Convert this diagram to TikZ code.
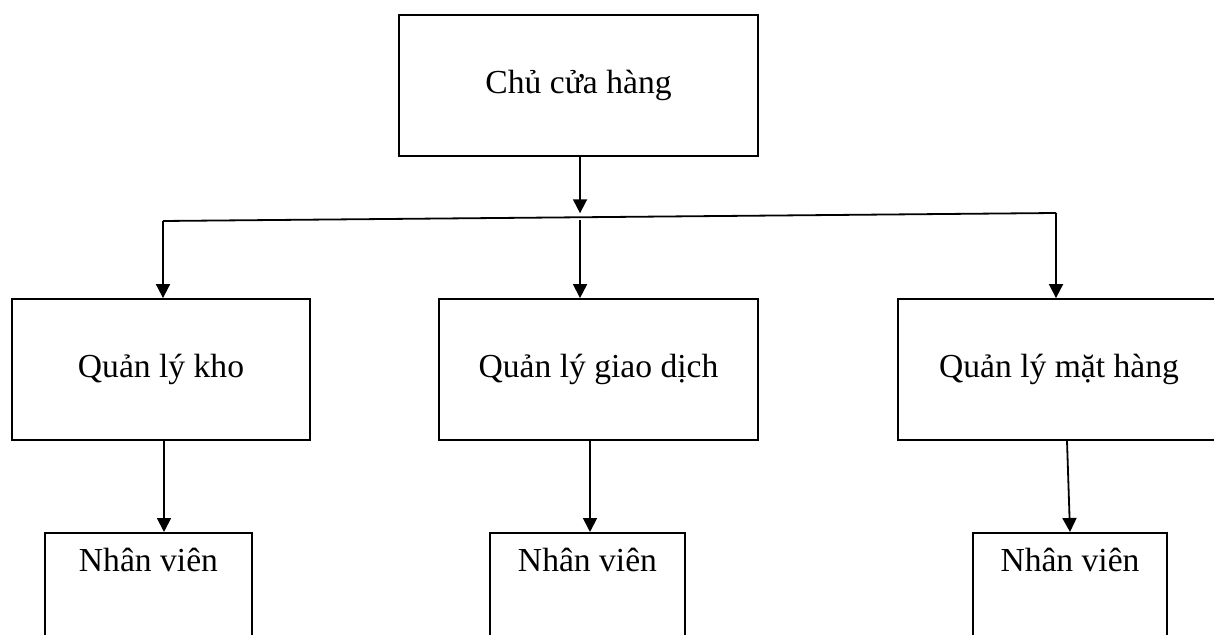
\documentclass[tikz,border=0pt]{standalone}
\usepackage{fontspec}
\setmainfont{Liberation Serif}
\usetikzlibrary{arrows.meta,calc}
\begin{document}
\begin{tikzpicture}[x=0.5pt,y=-0.5pt,
  box/.style={draw, line width=0.9pt, inner sep=0pt, font=\fontsize{16.8}{20}\selectfont},
  txt/.style={inner sep=0pt, font=\fontsize{16.8}{20}\selectfont},
  link/.style={line width=0.9pt},
  arr/.style={link, -{Triangle[width=7pt,length=7pt]}}]
\useasboundingbox (0,0) rectangle (1214,635);
\clip (0,0) rectangle (1214,635);

% owner
\node[box, minimum width=179.5pt, minimum height=70.5pt] (root) at (578.5,85.5) {Chủ cửa hàng};

% managers
\node[box, minimum width=149pt, minimum height=70.5pt] (kho) at (161,369.5) {Quản lý kho};
\node[box, minimum width=159.5pt, minimum height=70.5pt] (gd) at (598.5,369.5) {Quản lý giao dịch};
\node[box, minimum width=161pt, minimum height=70.5pt] (mh) at (1059,369.5) {Quản lý mặt hàng};

% staff boxes (open at the bottom edge)
\node[box, anchor=north, minimum width=103.5pt, minimum height=90pt] (n1) at (148.5,532) {};
\node[box, anchor=north, minimum width=97.5pt, minimum height=90pt] (n2) at (587.5,532) {};
\node[box, anchor=north, minimum width=97pt, minimum height=90pt] (n3) at (1070,532) {};
\node[txt] (t1) at ([yshift=-14pt]n1.north) {Nhân viên};
\node[txt] (t2) at ([yshift=-14pt]n2.north) {Nhân viên};
\node[txt] (t3) at ([yshift=-14pt]n3.north) {Nhân viên};

% distribution bar
\coordinate (barL) at (163,221);
\coordinate (barR) at (1056,213);
\coordinate (jn) at ($(barL)!0.467!(barR)$);
\draw[link] (barL) -- (barR);

\draw[arr] (root.south -| jn) -- ([yshift=2pt]jn);
\draw[arr] (barL) -- (barL |- kho.north);
\draw[arr] ([yshift=-1.5pt]jn) -- (jn |- gd.north);
\draw[arr] (barR) -- (barR |- mh.north);

% manager to staff
\draw[arr] ([xshift=1.5pt]kho.south) -- ([xshift=1.5pt]kho.south |- n1.north);
\draw[arr] ([xshift=-4.25pt]gd.south) -- ([xshift=-4.25pt]gd.south |- n2.north);
\draw[arr] ([xshift=4pt]mh.south) -- (n3.north);
\end{tikzpicture}
\end{document}
